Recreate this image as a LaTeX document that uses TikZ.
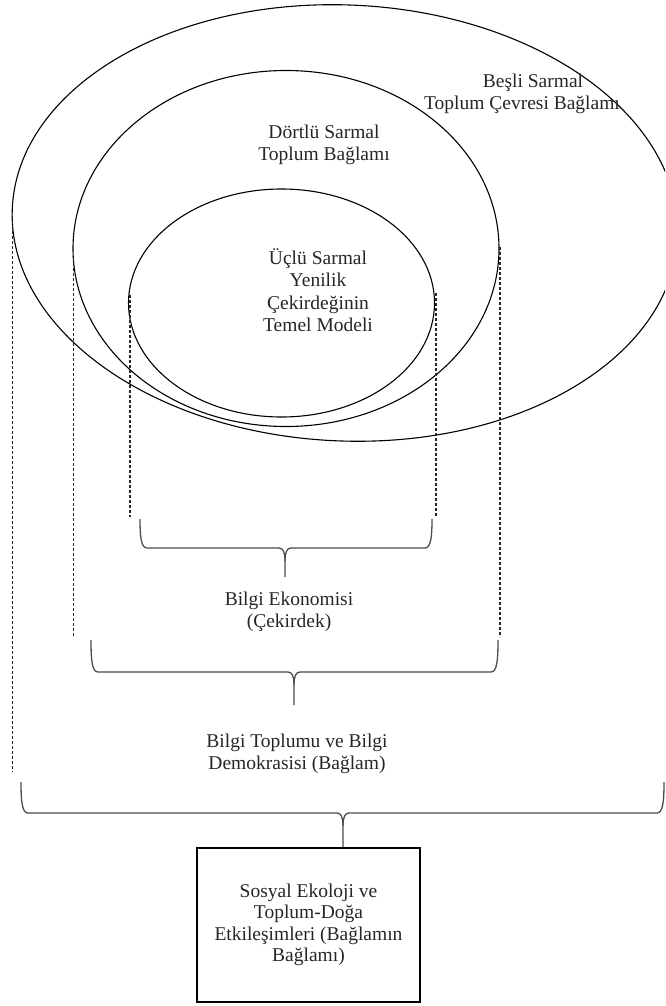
\documentclass[tikz,border=0pt]{standalone}
\usepackage{fontspec}
\setmainfont{Liberation Serif}
\newcommand\mybrace[6]{%
  \draw[bracestyle] (#1,#3) .. controls (#1,#4-12) and (#1+1,#4) .. (#1+7,#4)
    -- (#5-6,#4) .. controls (#5-2,#4) and (#5,#4+4) .. (#5,#4+13) -- (#5,#6);
  \draw[bracestyle] (#2,#3) .. controls (#2,#4-12) and (#2-1,#4) .. (#2-7,#4)
    -- (#5+6,#4) .. controls (#5+2,#4) and (#5,#4+4) .. (#5,#4+13);
}
\begin{document}
\begin{tikzpicture}[x=1pt,y=-1pt,
  ring/.style={draw=black, line width=1.1pt},
  guide/.style={draw=black!85, line width=1.1pt, dash pattern=on 3pt off 2pt},
  bracestyle/.style={draw=black!70, line width=1.3pt},
  lbl/.style={align=center, text=black!85, font=\fontsize{19.5}{22.5}\selectfont, inner sep=0pt},
  boxstyle/.style={draw=black, line width=1.4pt, minimum width=223pt, minimum height=154pt, align=center, text=black!85, font=\fontsize{19.5}{21.5}\selectfont}]
\useasboundingbox (0,0) rectangle (665,1006);
\clip (0,0) rectangle (665,1006);
% ellipses
\coordinate (cO) at (345,223);
\coordinate (cM) at (286,248.5);
\coordinate (cI) at (281.5,303);
\draw[ring, rotate around={-2.5:(cO)}] (cO) ellipse [x radius=333, y radius=218];
\draw[ring] (cM) ellipse [x radius=213, y radius=178];
\draw[ring] (cI) ellipse [x radius=153, y radius=114];
% labels in ellipses
\node[lbl] (five) at (522,94) {\hspace{22pt}Beşli Sarmal\\Toplum Çevresi Bağlamı};
\node[lbl] (four) at (324,145) {Dörtlü Sarmal\\Toplum Bağlamı};
\node[lbl] (three) at (318,290) {Üçlü Sarmal\\Yenilik\\Çekirdeğinin\\Temel Modeli};
% dashed guides
\coordinate (gIa) at (130,295); \coordinate (gIb) at (130,517);
\coordinate (gIc) at (436,293); \coordinate (gId) at (436,517);
\coordinate (gMa) at (73.5,258); \coordinate (gMb) at (73.5,637);
\coordinate (gMc) at (500,247); \coordinate (gMd) at (500,637);
\coordinate (gOa) at (12.5,216); \coordinate (gOb) at (12.5,772);
\draw[guide] (gIa) -- (gIb);
\draw[guide] (gIc) -- (gId);
\draw[guide] (gMa) -- (gMb);
\draw[guide] (gMc) -- (gMd);
\draw[guide] (gOa) -- (gOb);
% braces
\mybrace{140}{432}{519}{548}{285}{577}
\mybrace{91}{498}{640}{672}{294}{705}
\mybrace{21}{664}{782}{813}{343}{848}
% brace labels
\node[lbl] (econ) at (289,612) {Bilgi Ekonomisi\\(Çekirdek)};
\node[lbl] (soc) at (297,754) {Bilgi Toplumu ve Bilgi\\Demokrasisi (Bağlam)};
% box
\node[boxstyle] (eco) at (308.5,925) {Sosyal Ekoloji ve\\Toplum-Doğa\\Etkileşimleri (Bağlamın\\Bağlamı)};
\end{tikzpicture}
\end{document}
